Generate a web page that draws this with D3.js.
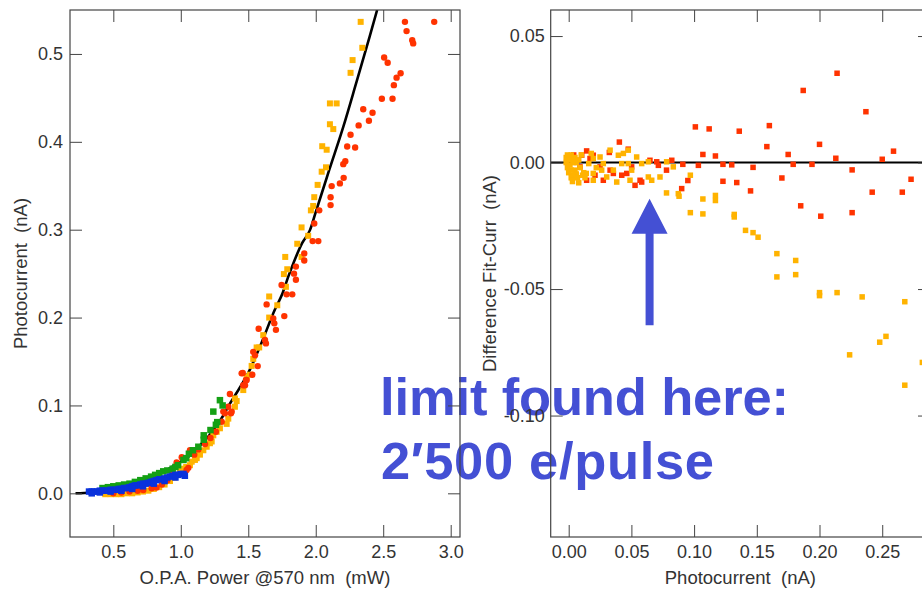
<!DOCTYPE html>
<html><head><meta charset="utf-8">
<script src="https://cdn.jsdelivr.net/npm/d3@7/dist/d3.min.js"></script>
<style>body{margin:0;background:#fff;} svg{display:block;}</style>
</head><body>
<svg id="c" width="922" height="590"></svg>
<script>
// ---------- DATA ----------
const leftXTicks = [0.5, 1.0, 1.5, 2.0, 2.5, 3.0];
const leftXTickLabels = ["0.5", "1.0", "1.5", "2.0", "2.5", "3.0"];
const leftYTicks = [0.0, 0.1, 0.2, 0.3, 0.4, 0.5];
const leftYTickLabels = ["0.0", "0.1", "0.2", "0.3", "0.4", "0.5"];
const rightXTicks = [0.00, 0.05, 0.10, 0.15, 0.20, 0.25];
const rightXTickLabels = ["0.00", "0.05", "0.10", "0.15", "0.20", "0.25"];
const rightYTicks = [0.05, 0.00, -0.05, -0.10];
const rightYTickLabels = ["0.05", "0.00", "-0.05", "-0.10"];

const leftXTitle = "O.P.A. Power @570 nm  (mW)";
const leftYTitle = "Photocurrent  (nA)";
const rightXTitle = "Photocurrent  (nA)";
const rightYTitle = "Difference Fit-Curr  (nA)";
const noteLines = ["limit found here:", "2\u2032500 e/pulse"];
const arrowAt = {x: 0.0645, yTip: -0.0143, yTail: -0.0643};

// Fit curve (black line)
const fitCurve = [[0.22,0.0],[0.33,0.001],[0.4,0.002],[0.5,0.004],[0.6,0.007],[0.7,0.012],[0.8,0.019],[0.9,0.027],
 [1.0,0.036],[1.1,0.047],[1.167,0.0587],[1.2,0.064],[1.3,0.085],[1.364,0.102],[1.4,0.111],[1.5,0.137],[1.6,0.172],
 [1.7,0.21],[1.747,0.225],[1.8,0.248],[1.9,0.285],[1.957,0.2995],[2.0,0.32],[2.1,0.368],[2.204,0.417],[2.3,0.467],[2.4,0.52],[2.455,0.55]];

// Blue squares
const bluePts = [[0.32,0.002],[0.34,0.002],[0.36,0.002],[0.38,0.002],[0.40,0.003],[0.42,0.003],[0.44,0.003],[0.46,0.003],
 [0.48,0.004],[0.50,0.004],[0.52,0.004],[0.54,0.005],[0.56,0.005],[0.58,0.006],[0.60,0.006],[0.62,0.007],[0.64,0.008],
 [0.66,0.009],[0.68,0.009],[0.70,0.010],[0.72,0.011],[0.74,0.011],[0.76,0.012],[0.78,0.013],[0.80,0.014],[0.82,0.015],
 [0.84,0.016],[0.86,0.016],[0.88,0.017],[0.90,0.018],[0.92,0.019],[0.94,0.020],[0.96,0.021],[0.98,0.021],[1.00,0.022],[1.02,0.022],
 [0.34,0.000],[0.40,0.001],[0.48,0.002],[0.56,0.003],[0.64,0.005],[0.72,0.008],[0.80,0.011],[0.88,0.014],[0.96,0.018],[1.03,0.020]];

// Green squares
const greenPts = [[0.42,0.006],[0.46,0.007],[0.50,0.008],[0.54,0.009],[0.58,0.010],[0.62,0.011],[0.66,0.013],[0.70,0.015],
 [0.74,0.017],[0.78,0.019],[0.81,0.021],[0.84,0.023],[0.87,0.025],[0.90,0.026],[0.94,0.028],[0.96,0.030],[0.98,0.032],
 [1.02,0.038],[1.04,0.040],[1.06,0.045],[1.09,0.049],[1.13,0.053],[1.17,0.061],[1.17,0.066],[1.22,0.072],[1.241,0.093],
 [1.26,0.078],[1.27,0.081],[1.29,0.106],[1.31,0.100]];

// Orange squares
const orangePts = [[0.44,-0.001],[0.48,-0.001],[0.52,-0.001],[0.56,-0.001],[0.60,0.0],[0.64,0.0],[0.68,0.001],[0.72,0.002],
 [0.76,0.003],[0.80,0.005],[0.84,0.007],[0.88,0.010],[0.92,0.014],[0.95,0.018],[0.97,0.021],[0.994,0.025],[1.007,0.028],
 [1.04,0.030],[1.068,0.032],[1.081,0.036],[1.105,0.038],[1.118,0.040],[1.142,0.044],[1.167,0.049],[1.192,0.053],[1.216,0.057],
 [1.229,0.059],[1.241,0.066],[1.266,0.070],[1.29,0.074],[1.34,0.079],[1.352,0.085],[1.401,0.0985],[1.401,0.108],[1.414,0.105],
 [1.463,0.1175],[1.488,0.133],[1.513,0.135],[1.525,0.145],[1.537,0.153],[1.562,0.166],[1.581,0.166],[1.611,0.180],[1.655,0.200],
 [1.655,0.224],[1.715,0.214],[1.764,0.2495],[1.779,0.235],[1.789,0.255],[1.774,0.269],[1.863,0.284],[1.895,0.269],[1.895,0.3026],
 [1.944,0.293],[1.964,0.322],[1.981,0.327],[1.989,0.337],[2.014,0.351],[2.044,0.366],[2.076,0.371],[2.048,0.395],[2.081,0.391],
 [2.105,0.42],[2.13,0.4145],[2.105,0.4437],[2.155,0.4437],[2.258,0.4785],[2.273,0.493],[2.345,0.507],[2.333,0.5365]];

// Red circles
const redPts = [[0.50,0.000],[0.56,0.001],[0.62,0.002],[0.68,0.003],[0.722,0.0038],[0.784,0.0057],[0.82,0.0065],[0.86,0.010],
 [0.90,0.015],[0.94,0.022],[0.969,0.035],[1.007,0.041],[1.031,0.040],[1.043,0.0265],[1.056,0.029],[1.068,0.049],[1.10,0.044],
 [1.13,0.050],[1.18,0.056],[1.22,0.063],[1.26,0.070],[1.303,0.0815],[1.315,0.093],[1.327,0.091],[1.352,0.0985],[1.364,0.113],
 [1.372,0.091],[1.377,0.093],[1.451,0.1365],[1.459,0.137],[1.463,0.123],[1.476,0.123],[1.483,0.129],[1.488,0.129],[1.53,0.135],
 [1.537,0.161],[1.55,0.157],[1.57,0.1448],[1.577,0.1873],[1.624,0.1744],[1.631,0.1706],[1.636,0.215],[1.685,0.199],[1.693,0.1934],
 [1.705,0.186],[1.747,0.237],[1.767,0.2017],[1.784,0.2264],[1.826,0.2264],[1.839,0.25],[1.853,0.258],[1.853,0.243],[1.915,0.273],
 [1.915,0.265],[1.977,0.287],[2.019,0.287],[1.989,0.307],[2.026,0.322],[2.11,0.328],[2.11,0.337],[2.118,0.3496],[2.179,0.3527],
 [2.207,0.359],[2.204,0.3746],[2.219,0.378],[2.233,0.3947],[2.292,0.3936],[2.258,0.408],[2.318,0.4187],[2.394,0.424],[2.352,0.437],
 [2.421,0.433],[2.49,0.449],[2.569,0.449],[2.579,0.4645],[2.599,0.473],[2.629,0.478],[2.507,0.496],[2.533,0.490],[2.715,0.5157],
 [2.722,0.512],[2.673,0.526],[2.661,0.5365],[2.878,0.5365]];

// Residuals (right panel)
const redRes = [[0.004,0.003],[0.0064,0.0009],[0.009,-0.0017],[0.0104,0.0029],[0.0143,0.0046],[0.0143,-0.007],[0.017,0.0016],
 [0.0196,0.0029],[0.021,-0.005],[0.025,-0.0017],[0.0276,-0.007],[0.0324,0.004],[0.033,-0.003],[0.0356,-0.0043],[0.0404,0.0081],
 [0.0423,-0.005],[0.0463,-0.0043],[0.0475,0.0053],[0.0502,-0.0017],[0.0529,-0.009],[0.0569,-0.007],[0.0582,-0.0077],[0.0648,0.0009],
 [0.0702,0.0003],[0.0715,-0.0011],[0.078,-0.003],[0.0822,0.0009],[0.091,-0.0007],[0.0901,-0.0103],[0.095,-0.0071],[0.1034,-0.0011],
 [0.101,0.0141],[0.107,0.0032],[0.112,0.0133],[0.117,0.0026],[0.123,-0.0007],[0.123,-0.0074],[0.130,-0.0009],[0.134,-0.0079],
 [0.136,0.0124],[0.145,-0.0112],[0.147,-0.0019],[0.158,0.0063],[0.160,0.0146],[0.170,-0.0061],[0.175,0.0032],[0.179,-0.0007],
 [0.185,-0.0171],[0.187,0.0285],[0.194,-0.0007],[0.200,0.0072],[0.201,-0.0212],[0.213,0.0017],[0.214,0.0353],[0.226,-0.0029],
 [0.226,-0.0198],[0.237,0.0201],[0.242,-0.0117],[0.250,0.0013],[0.259,0.0045],[0.266,-0.0117],[0.273,-0.0066]];

const orangeRes = [[-0.002,0.002],[-0.002,0.0],[-0.001,-0.002],[-0.001,0.003],[0.0,0.001],[0.0,-0.004],[0.001,-0.001],
 [0.001,0.002],[0.002,-0.003],[0.002,0.003],[0.002,-0.006],[0.003,0.001],[0.003,-0.006],[0.003,-0.0075],[0.004,-0.005],
 [0.004,0.0],[0.005,-0.003],[0.005,0.002],[0.006,0.0],[0.006,-0.0045],[0.007,-0.006],[0.008,-0.008],[0.008,0.001],[0.009,-0.002],
 [0.010,0.003],[0.011,-0.005],
 [0.012,-0.004],[0.013,-0.006],[0.014,-0.0043],[0.016,-0.0004],[0.018,0.0036],[0.0196,0.0016],[0.0196,-0.0043],[0.0196,-0.007],
 [0.022,-0.002],[0.025,0.0022],[0.0263,-0.003],[0.0276,-0.0004],[0.0303,-0.0057],[0.033,0.0049],[0.0356,-0.003],[0.0383,-0.0077],
 [0.0396,0.0029],[0.0423,-0.0004],[0.0436,0.0036],[0.0475,0.0049],[0.0475,-0.0004],[0.0489,-0.007],[0.0502,-0.003],[0.0542,0.0022],
 [0.0582,-0.0004],[0.0635,0.0003],[0.0635,-0.0057],[0.0662,-0.007],[0.0728,-0.0057],[0.078,-0.012],[0.0781,0.0003],[0.0834,-0.0017],
 [0.0874,-0.0123],[0.088,-0.0133],[0.097,-0.005],[0.097,-0.0198],[0.107,-0.0144],[0.107,-0.0203],[0.117,-0.013],[0.117,-0.015],
 [0.132,-0.0205],[0.132,-0.0215],[0.141,-0.0268],[0.147,-0.0277],[0.151,-0.0295],[0.166,-0.036],[0.181,-0.0387],[0.166,-0.0452],
 [0.181,-0.0443],[0.200,-0.0514],[0.200,-0.0526],[0.214,-0.0514],[0.234,-0.0531],[0.268,-0.055],[0.253,-0.0687],[0.248,-0.071],
 [0.224,-0.076],[0.268,-0.088],[0.282,-0.079]];

// ---------- STYLE ----------
const C = {red:"#ff3300", orange:"#ffb300", green:"#14a014", blue:"#0a32dc", note:"#4450d4", axis:"#444", text:"#333"};
const FONT = "'Liberation Sans', Arial, Helvetica, sans-serif";

const svg = d3.select("#c");
const L = {x0:70, x1:460, y0:10, y1:537};
const R = {x0:550.7, x1:930, y0:10, y1:537};

const xL = d3.scaleLinear().domain([0.179, 3.069]).range([L.x0, L.x1]);
const yL = d3.scaleLinear().domain([-0.0497, 0.55]).range([L.y1, L.y0]);
const xR = d3.scaleLinear().domain([-0.01435, 0.2881]).range([R.x0, R.x1]);
const yR = d3.scaleLinear().domain([-0.148, 0.0603]).range([R.y1, R.y0]);

const defs = svg.append("defs");
defs.append("clipPath").attr("id","clipL").append("rect")
  .attr("x",L.x0).attr("y",L.y0).attr("width",L.x1-L.x0).attr("height",L.y1-L.y0);
defs.append("clipPath").attr("id","clipR").append("rect")
  .attr("x",R.x0).attr("y",R.y0).attr("width",R.x1-R.x0).attr("height",R.y1-R.y0);

// ---------- LEFT PANEL DATA ----------
const gL = svg.append("g").attr("clip-path","url(#clipL)");
gL.append("path").datum(fitCurve)
  .attr("fill","none").attr("stroke","#000").attr("stroke-width",2.6)
  .attr("d", d3.line().x(d=>xL(d[0])).y(d=>yL(d[1])).curve(d3.curveMonotoneX));

function squares(g, data, xs, ys, color, s){
  g.append("g").selectAll("rect").data(data).join("rect")
    .attr("x", d=>xs(d[0])-s/2).attr("y", d=>ys(d[1])-s/2)
    .attr("width", s).attr("height", s).attr("fill", color);
}
squares(gL, orangePts, xL, yL, C.orange, 6);
gL.append("g").selectAll("circle").data(redPts).join("circle")
  .attr("cx", d=>xL(d[0])).attr("cy", d=>yL(d[1])).attr("r", 3.2).attr("fill", C.red);
squares(gL, greenPts, xL, yL, C.green, 6.5);
squares(gL, bluePts, xL, yL, C.blue, 6.5);

// ---------- RIGHT PANEL DATA ----------
const gR = svg.append("g").attr("clip-path","url(#clipR)");
gR.append("line").attr("x1",R.x0).attr("x2",R.x1).attr("y1",yR(0)).attr("y2",yR(0))
  .attr("stroke","#000").attr("stroke-width",2);
squares(gR, redRes, xR, yR, C.red, 5.5);
squares(gR, orangeRes, xR, yR, C.orange, 5.5);

// ---------- ANNOTATION ----------
const ax = xR(arrowAt.x), tipY = yR(arrowAt.yTip), tailY = yR(arrowAt.yTail);
const headLen = 35, headHalf = 18, shaftHalf = 4;
svg.append("path").attr("fill", C.note)
  .attr("d", `M${ax},${tipY} L${ax+headHalf},${tipY+headLen} L${ax+shaftHalf},${tipY+headLen} L${ax+shaftHalf},${tailY} L${ax-shaftHalf},${tailY} L${ax-shaftHalf},${tipY+headLen} L${ax-headHalf},${tipY+headLen} Z`);

const noteLen = [409, 333];
svg.append("g").selectAll("text").data(noteLines).join("text")
  .attr("x", (d,i)=> i ? 381 : 380).attr("y", (d,i)=>415 + i*64)
  .attr("font-family", FONT).attr("font-weight","bold").attr("font-size", 52.5)
  .attr("textLength", (d,i)=>noteLen[i]).attr("lengthAdjust","spacing")
  .attr("fill", C.note).text(d=>d);

// ---------- AXES ----------
function styleAxis(g){
  g.select(".domain").remove();
  g.selectAll(".tick line").attr("stroke", C.axis).attr("stroke-width",1);
  g.selectAll(".tick text").attr("font-family", FONT).attr("font-size", 18).attr("fill", C.text);
}
function frame(P){
  svg.append("rect").attr("x",P.x0).attr("y",P.y0).attr("width",P.x1-P.x0).attr("height",P.y1-P.y0)
    .attr("fill","none").attr("stroke",C.axis).attr("stroke-width",1.2);
}
const T = 12;
// left panel
svg.append("g").attr("transform",`translate(0,${L.y1})`)
  .call(d3.axisBottom(xL).tickValues(leftXTicks).tickFormat((d,i)=>leftXTickLabels[i]).tickSizeInner(-T).tickSizeOuter(0).tickPadding(8)).call(styleAxis);
svg.append("g").attr("transform",`translate(0,${L.y0})`)
  .call(d3.axisTop(xL).tickValues(leftXTicks).tickFormat("").tickSizeInner(-T).tickSizeOuter(0)).call(styleAxis);
svg.append("g").attr("transform",`translate(${L.x0},0)`)
  .call(d3.axisLeft(yL).tickValues(leftYTicks).tickFormat((d,i)=>leftYTickLabels[i]).tickSizeInner(-T).tickSizeOuter(0).tickPadding(7)).call(styleAxis);
svg.append("g").attr("transform",`translate(${L.x1},0)`)
  .call(d3.axisRight(yL).tickValues(leftYTicks).tickFormat("").tickSizeInner(-T).tickSizeOuter(0)).call(styleAxis);
frame(L);
// right panel
svg.append("g").attr("transform",`translate(0,${R.y1})`)
  .call(d3.axisBottom(xR).tickValues(rightXTicks).tickFormat((d,i)=>rightXTickLabels[i]).tickSizeInner(-T).tickSizeOuter(0).tickPadding(8)).call(styleAxis);
svg.append("g").attr("transform",`translate(0,${R.y0})`)
  .call(d3.axisTop(xR).tickValues(rightXTicks).tickFormat("").tickSizeInner(-T).tickSizeOuter(0)).call(styleAxis);
svg.append("g").attr("transform",`translate(${R.x0},0)`)
  .call(d3.axisLeft(yR).tickValues(rightYTicks).tickFormat((d,i)=>rightYTickLabels[i]).tickSizeInner(-T).tickSizeOuter(0).tickPadding(6)).call(styleAxis);
svg.append("g").attr("transform",`translate(${R.x1},0)`)
  .call(d3.axisRight(yR).tickValues(rightYTicks).tickFormat("").tickSizeInner(-T).tickSizeOuter(0)).call(styleAxis);
frame(R);

// titles
function title(txt, x, y, rot){
  svg.append("text").attr("transform", `translate(${x},${y})` + (rot ? " rotate(-90)" : ""))
    .attr("text-anchor","middle").attr("font-family",FONT).attr("font-size",18.5)
    .attr("fill",C.text).style("white-space","pre").text(txt);
}
title(leftXTitle, (L.x0+L.x1)/2, 584, false);
title(rightXTitle, (R.x0+R.x1)/2, 584, false);
title(leftYTitle, 26.5, (L.y0+L.y1)/2, true);
title(rightYTitle, 496, (R.y0+R.y1)/2, true);
</script>
</body></html>
